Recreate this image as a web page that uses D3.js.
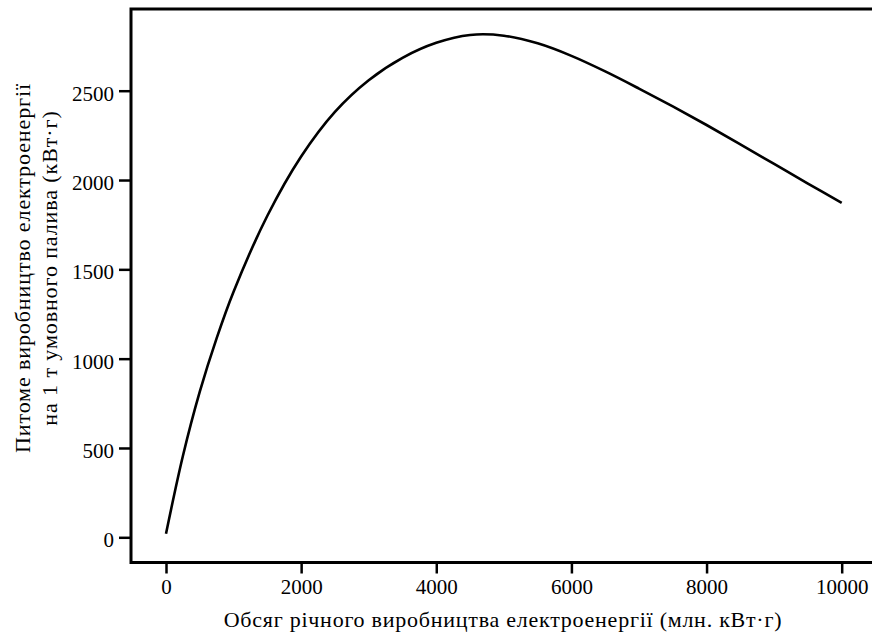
<!DOCTYPE html>
<html>
<head>
<meta charset="utf-8">
<script src="https://cdn.jsdelivr.net/npm/d3@7"></script>
<style>
  html, body { margin: 0; padding: 0; background: #fff; }
  svg { display: block; }
  text { font-family: "Liberation Serif", "Times New Roman", serif; fill: #000; }
</style>
</head>
<body>
<svg id="chart" width="872" height="637"></svg>
<script>
// Data
const outputVolume = [0, 250, 500, 750, 1000, 1500, 2000, 2500, 3000, 3500, 4000, 4500, 5000, 5500, 6000, 6500, 7000, 7500, 8000, 8500, 9000, 9500, 10000];
const specificOutput = [20, 455, 815, 1115, 1375, 1800, 2132, 2382, 2559, 2684, 2768, 2812, 2808, 2765, 2695, 2608, 2512, 2412, 2308, 2200, 2090, 1980, 1872];
const xTicks = [0, 2000, 4000, 6000, 8000, 10000];
const yTicks = [0, 500, 1000, 1500, 2000, 2500];
const xLabel = "Обсяг річного виробництва електроенергії (млн. кВт·г)";
const yLabelLines = ["Питоме виробництво електроенергії", "на 1 т умовного палива (кВт·г)"];

const svg = d3.select("#chart");
const frame = { left: 131, right: 872, top: 9, bottom: 562.5 };

const x = d3.scaleLinear().domain([0, 10000]).range([166, 841.7]);
const y = d3.scaleLinear().domain([0, 2500]).range([537.3, 90.7]);

// Frame (left, top, bottom lines; the right side is open/cropped)
svg.append("path")
  .attr("d", `M${frame.right},${frame.top} H${frame.left} V${frame.bottom} H${frame.right}`)
  .attr("fill", "none").attr("stroke", "#000").attr("stroke-width", 3);

// X axis
const xAxis = d3.axisBottom(x).tickValues(xTicks).tickSize(11).tickPadding(6).tickFormat(d3.format("d"));
const gx = svg.append("g").attr("transform", `translate(0,${frame.bottom})`).call(xAxis);
gx.select(".domain").remove();
gx.selectAll(".tick line").attr("stroke", "#000").attr("stroke-width", 2.5);
gx.selectAll(".tick text").attr("font-size", 21).attr("fill", "#000");

// Y axis
const yAxis = d3.axisLeft(y).tickValues(yTicks).tickSize(12).tickPadding(5).tickFormat(d3.format("d"));
const gy = svg.append("g").attr("transform", `translate(${frame.left},0)`).call(yAxis);
gy.select(".domain").remove();
gy.selectAll(".tick line").attr("stroke", "#000").attr("stroke-width", 2.5);
gy.selectAll(".tick text").attr("font-size", 21).attr("fill", "#000").attr("dy", "0.45em");

// Curve
const line = d3.line().x((d, i) => x(outputVolume[i])).y(d => y(d)).curve(d3.curveCatmullRom.alpha(0.5));
svg.append("path")
  .datum(specificOutput)
  .attr("d", line)
  .attr("fill", "none").attr("stroke", "#000").attr("stroke-width", 2.6).attr("stroke-linecap", "butt");

// X label
svg.append("text")
  .attr("x", 503).attr("y", 627)
  .attr("text-anchor", "middle").attr("font-size", 22)
  .attr("letter-spacing", "0.75px")
  .text(xLabel);

// Y label (two lines, rotated)
const yl = svg.append("text")
  .attr("transform", "translate(0,268) rotate(-90)")
  .attr("text-anchor", "middle").attr("font-size", 22)
  .attr("letter-spacing", "0.9px");
yl.append("tspan").attr("x", 0).attr("y", 30).text(yLabelLines[0]);
yl.append("tspan").attr("x", 0).attr("y", 57).text(yLabelLines[1]);
</script>
</body>
</html>
